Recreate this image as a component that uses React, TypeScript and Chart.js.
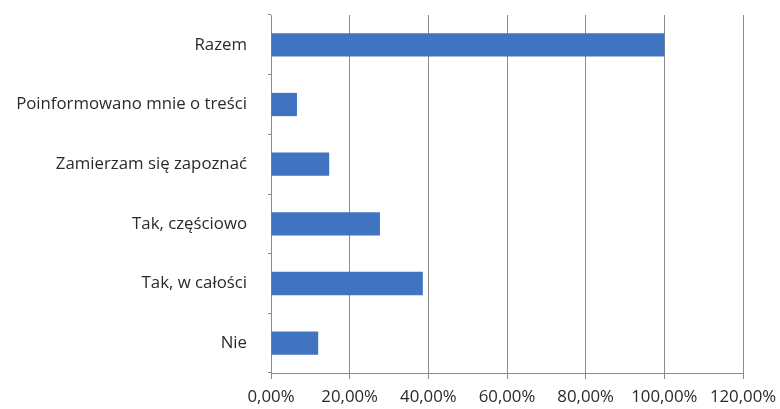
import React, { useEffect, useRef } from "react";
import { Chart, registerables } from "chart.js";

Chart.register(...registerables);

const categories = [
  "Razem",
  "Poinformowano mnie o treści",
  "Zamierzam się zapoznać",
  "Tak, częściowo",
  "Tak, w całości",
  "Nie",
];
const values = [100, 6.6, 14.8, 27.7, 38.6, 12.0];
const xMin = 0;
const xMax = 120;
const xStep = 20;

const fmt = (v: number) => v.toFixed(2).replace(".", ",") + "%";

export default function App() {
  const ref = useRef<HTMLCanvasElement | null>(null);
  useEffect(() => {
    if (!ref.current) return;
    const yFont = { family: "'Open Sans', sans-serif", size: 16.8 };
    const xFont = { family: "'Open Sans', sans-serif", size: 16.8 };
    const chart = new Chart(ref.current, {
      type: "bar",
      data: {
        labels: categories,
        datasets: [
          {
            data: values,
            backgroundColor: "#4174C0",
            borderWidth: 0,
            barPercentage: 0.39,
            categoryPercentage: 1,
          },
        ],
      },
      options: {
        indexAxis: "y",
        animation: false,
        responsive: false,
        maintainAspectRatio: false,
        layout: { padding: { top: 15, right: 37, left: 0, bottom: 0 } },
        plugins: { legend: { display: false }, tooltip: { enabled: false } },
        scales: {
          x: {
            min: xMin,
            max: xMax,
            ticks: {
              stepSize: xStep,
              callback: (v: any) => fmt(Number(v)),
              color: "#2a2a2a",
              font: xFont,
              padding: 8,
              maxRotation: 0,
              autoSkip: false,
            },
            grid: { color: "#8a8a8a", tickLength: 6, lineWidth: 1 },
            border: { color: "#8a8a8a" },
            afterFit: (s: any) => {
              s.height = 36;
              s.paddingLeft = 0;
              s.paddingRight = 0;
            },
          },
          y: {
            offset: true,
            ticks: { color: "#2a2a2a", font: yFont, padding: 21 },
            grid: {
              offset: true,
              drawOnChartArea: false,
              drawTicks: true,
              tickLength: 3,
              color: "#8a8a8a",
            },
            border: { color: "#8a8a8a" },
            afterFit: (s: any) => {
              s.width = 271;
              s.paddingTop = 0;
              s.paddingBottom = 0;
            },
          },
        },
      },
    });
    return () => chart.destroy();
  }, []);
  return (
    <div style={{ position: "fixed", left: 0, top: 0, width: 780, height: 409, background: "#fff" }}>
      <canvas ref={ref} width={780} height={409} />
    </div>
  );
}
